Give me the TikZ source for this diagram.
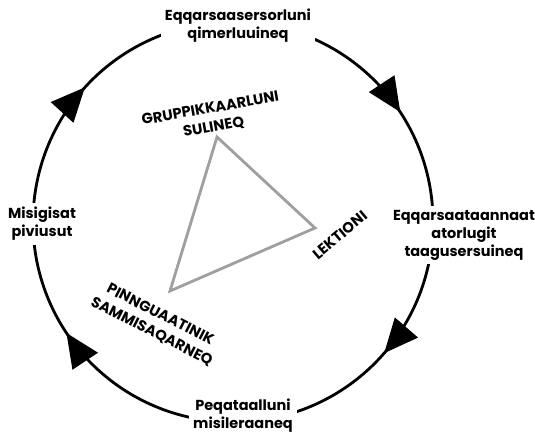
\documentclass[tikz,border=0pt]{standalone}
\usepackage{fontspec}
\setmainfont{Poppins}
\usetikzlibrary{arrows.meta,decorations.markings}

\begin{document}
\begin{tikzpicture}[
  stage/.style={fill=white, align=center, inner sep=3pt, font=\bfseries\fontsize{10.3}{12.8}\selectfont},
  corner/.style={align=center, inner sep=0pt, font=\bfseries\fontsize{10.5}{13.5}\selectfont},
  cyclearc/.style={line width=2pt, decoration={markings, mark=at position #1 with {\arrow{Triangle[length=0.85cm,width=0.75cm]}}}, postaction=decorate},
  tri/.style={draw=gray!75, line width=2pt, line join=miter}
]
\useasboundingbox (0,0) rectangle (13.375,10.8);

% points on the cycle
\coordinate (pl) at (0.825,5.25);
\coordinate (pt) at (5.825,10.25);
\coordinate (pr) at (10.825,5.25);
\coordinate (pb) at (5.825,0.25);

\path[draw,cyclearc=0.47] (pl) to[bend left=45] (pt);
\path[draw,cyclearc=0.63] (pt) to[bend left=45] (pr);
\path[draw,cyclearc=0.455] (pr) to[bend left=45] (pb);
\path[draw,cyclearc=0.626] (pb) to[bend left=45] (pl);

\node[stage] (top) at (5.95,10.15) {Eqqarsaasersorluni\\qimerluuineq};
\node[stage] (right) at (11.6,4.925) {Eqqarsaataannaat\\atorlugit\\taagusersuineq};
\node[stage] (bottom) at (6.075,0.4) {Peqataalluni\\misileraaneq};
\node[stage] (left) at (1.05,5.2) {Misigisat\\piviusut};

% inner triangle
\coordinate (ta) at (5.425,7.375);
\coordinate (tb) at (7.875,5.1);
\coordinate (tc) at (4.25,3.525);
\path[tri] (ta) -- (tb) -- (tc) -- cycle;

\node[corner, rotate=10] (group) at (5.3,7.85) {GRUPPIKKAARLUNI\\SULINEQ};
\node[corner, rotate=40] (lesson) at (8.5,4.925) {LEKTIONI};
\node[corner, rotate=-27] (practice) at (3.9,2.72) {PINNGUAATINIK\\SAMMISAQARNEQ};
\end{tikzpicture}
\end{document}
